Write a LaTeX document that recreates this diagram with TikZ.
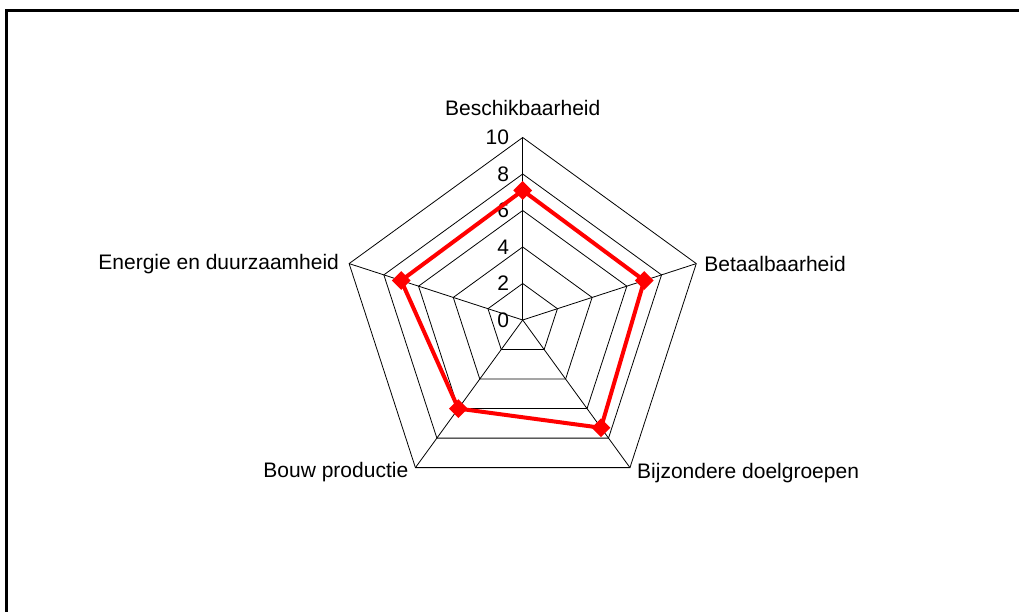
\documentclass[tikz,border=0pt]{standalone}
\usepackage{fontspec}
\setmainfont{Liberation Sans}
\usetikzlibrary{shapes.geometric}

\begin{document}
\begin{tikzpicture}[x=1pt,y=1pt,
  raster/.style={black, line width=0.8pt},
  serie/.style={red, line width=4pt, line join=miter},
  punt/.style={diamond, fill=red, inner sep=0pt, minimum width=19pt, minimum height=19pt},
  as/.style={font=\fontsize{21}{25}\selectfont, inner sep=0pt}]
\useasboundingbox (-522.7,-292) rectangle (496.3,320);
% kader
\draw[line width=2.2pt] (-516.2,-292) -- (-516.2,309.5) -- (496.3,309.5);

% raster
\coordinate (m) at (0,0);
\foreach \r in {2,4,...,10} {
\draw[raster] (90:\r*18.25) -- (18:\r*18.25) -- (-54:\r*18.25) -- (-126:\r*18.25) -- (162:\r*18.25) -- cycle;
}
\foreach \a/\n in {90/1,18/2,-54/3,-126/4,162/5} {
\coordinate (h\n) at (\a:182.5);
\draw[raster] (m) -- (h\n);
}
% schaal
\foreach \v in {0,2,...,10} {
\node[as, anchor=east] (t\v) at (-13.5,\v*18.25) {\v};
}

% assen
\node[as, anchor=base] (l1) at (0,204) {Beschikbaarheid};
\node[as, anchor=west, xshift=8pt] (l2) at (h2) {Betaalbaarheid};
\node[as, anchor=base west, xshift=7pt, yshift=-10.4pt] (l3) at (h3) {Bijzondere doelgroepen};
\node[as, anchor=base east, xshift=-7pt, yshift=-10pt] (l4) at (h4) {Bouw productie};
\node[as, anchor=east, xshift=-10pt] (l5) at (h5) {Energie en duurzaamheid};

% serie
\foreach \a/\v/\n in {90/7.1/1,18/7.0/2,-54/7.3/3,-126/6.0/4,162/7.0/5} {
\coordinate (p\n) at (\a:\v*18.25);
}
\draw[serie] (p1) -- (p2) -- (p3) -- (p4) -- (p5) -- cycle;
\foreach \n in {1,...,5} {
\node[punt] (q\n) at (p\n) {};
}
\end{tikzpicture}
\end{document}
